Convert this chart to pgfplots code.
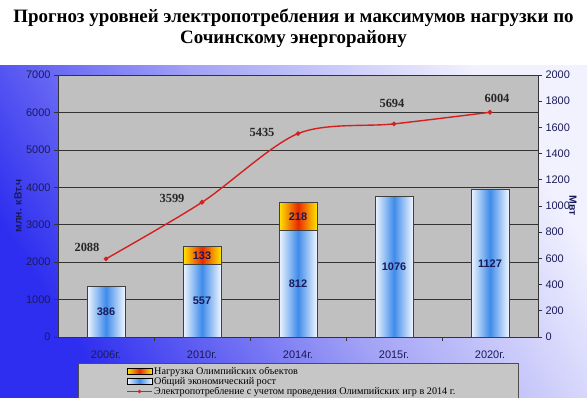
\documentclass[border=0pt]{standalone}
\usepackage{pgfplots}
\pgfplotsset{compat=1.18}
\usepackage{fontspec}
\setmainfont{Liberation Serif}
\newfontfamily\arial{Liberation Sans}
\definecolor{navy}{HTML}{1A1A5A}
\definecolor{graybg}{HTML}{C0C0C0}
\definecolor{bgblue}{HTML}{2E2EF0}
\definecolor{bgmid}{HTML}{A2A2F6}
\definecolor{bglight}{HTML}{F2F2FF}
\definecolor{blueE}{HTML}{F0F6FF}
\definecolor{blueC}{HTML}{3F8CEA}
\definecolor{yel}{HTML}{FFE600}
\definecolor{redc}{HTML}{E82A00}
\definecolor{linered}{HTML}{D42020}
\tikzset{barlab/.style={font=\arial\bfseries\fontsize{11}{12}\selectfont, text=navy},
         linelab/.style={font=\bfseries\fontsize{12.5}{14}\selectfont, text=black!85},
         leglab/.style={anchor=west, inner sep=0pt, font=\fontsize{10.2}{10.5}\selectfont},
         bluebar/.style={draw=black!75, line width=0.7pt, left color=blueE, right color=blueE, middle color=blueC},
         orangebar/.style={draw=black!75, line width=0.7pt, left color=yel, right color=yel, middle color=redc}}
\begin{document}
\begin{tikzpicture}[x=1bp,y=1bp]
\path[use as bounding box] (0,0) rectangle (587,397);
\fill[white] (0,0) rectangle (587,397);
\shade[top color=bglight, bottom color=bgblue, middle color=bgmid, shading angle=-58] (0,0) rectangle (587,332);
\node[font=\bfseries\fontsize{19}{21}\selectfont, align=center] at (293.5,369)
  {Прогноз уровней электропотребления и максимумов нагрузки по\\Сочинскому энергорайону};
% background axis with left scale and grid
\begin{axis}[at={(58bp,60bp)}, anchor=south west, width=480bp, height=262bp, scale only axis,
  xmin=-0.5, xmax=4.5, ymin=0, ymax=7000,
  ytick={0,1000,...,7000}, ymajorgrids,
  grid style={black!80, line width=0.7pt},
  axis background/.style={fill=graybg},
  axis line style={black!80, line width=0.7pt},
  xtick={0,1,2,3,4}, xticklabels={2006г.,2010г.,2014г.,2015г.,2020г.},
  xtick style={draw=none},
  extra x ticks={0.5,1.5,2.5,3.5}, extra x tick labels={},
  extra x tick style={grid=none, xtick style={draw=black!80, line width=0.7pt}},
  ytick style={black!80, line width=0.7pt},
  tick align=outside, major tick length=4bp,
  ytick pos=left, xtick pos=bottom,
  /pgf/number format/assume math mode=true,
  /pgf/number format/1000 sep={},
  ticklabel style={font=\arial\fontsize{11}{12}\selectfont, text=navy},
  xticklabel style={yshift=-6bp},
  ylabel={млн. кВт.ч},
  ylabel style={font=\arial\bfseries\fontsize{10.5}{12}\selectfont, text=navy,
    at={(axis description cs:-0.083,0.5)}, anchor=center},
]
\end{axis}
% bars on right scale
\begin{axis}[at={(58bp,60bp)}, anchor=south west, width=480bp, height=262bp, scale only axis,
  xmin=-0.5, xmax=4.5, ymin=0, ymax=2000,
  axis x line=none, axis y line*=right,
  ytick={0,200,...,2000},
  ytick style={black!80, line width=0.7pt},
  axis line style={black!80, line width=0.7pt},
  tick align=outside, major tick length=4bp,
  /pgf/number format/assume math mode=true,
  /pgf/number format/1000 sep={},
  ticklabel style={font=\arial\fontsize{11}{12}\selectfont, text=navy},
  ylabel={Мвт},
  ylabel style={font=\arial\bfseries\fontsize{10.5}{12}\selectfont, text=navy, rotate=180,
    at={(axis description cs:1.073,0.5)}, anchor=center},
  ybar, bar width=38bp, bar shift=0pt, clip=false,
]
% Olympic load on top of the general growth: drawn to the full stack height, then covered by the blue part
\addplot[orangebar] coordinates {(1,690)};
\addplot[orangebar] coordinates {(2,1030)};
\addplot[bluebar] coordinates {(0,386)};
\addplot[bluebar] coordinates {(1,557)};
\addplot[bluebar] coordinates {(2,812)};
\addplot[bluebar] coordinates {(3,1076)};
\addplot[bluebar] coordinates {(4,1127)};
\end{axis}
% line on left scale
\begin{axis}[at={(58bp,60bp)}, anchor=south west, width=480bp, height=262bp, scale only axis,
  xmin=-0.5, xmax=4.5, ymin=0, ymax=7000, hide axis, clip=false]
\addplot[linered, line width=1.4pt, smooth, mark=*, mark size=1.6pt, mark options={fill=linered}]
  coordinates {(0,2088) (1,3599) (2,5435) (3,5694) (4,6004)};
\node[linelab] at (axis cs:-0.198,2404) {2088};
\node[linelab] at (axis cs:0.6875,3713) {3599};
\node[linelab] at (axis cs:1.625,5476) {5435};
\node[linelab] at (axis cs:2.979,6250) {5694};
\node[linelab] at (axis cs:4.073,6384) {6004};
% bar labels (positions in MW times 3.5)
\node[barlab] at (axis cs:0,675) {386};
\node[barlab] at (axis cs:1,973) {557};
\node[barlab] at (axis cs:1,2181) {133};
\node[barlab] at (axis cs:2,1421) {812};
\node[barlab] at (axis cs:2,3224) {218};
\node[barlab] at (axis cs:3,1883) {1076};
\node[barlab] at (axis cs:4,1971) {1127};
\end{axis}
% legend
\fill[graybg!90!white, draw=black!70, line width=0.7pt] (78,-2) rectangle (518,34);
\shade[left color=yel, right color=yel, middle color=redc] (127,22.5) rectangle (152,28.5);
\draw[black, line width=0.7pt] (127,22.5) rectangle (152,28.5);
\node[leglab] at (154,25.5) {Нагрузка Олимпийских объектов};
\shade[left color=blueE, right color=blueE, middle color=blueC] (127,12.5) rectangle (152,18.5);
\draw[black, line width=0.7pt] (127,12.5) rectangle (152,18.5);
\node[leglab] at (154,15.5) {Общий экономический рост};
\draw[linered, line width=1.4pt] (127,5.5) -- (152,5.5);
\fill[linered] (139.5,5.5) circle (1.8);
\node[leglab] at (154,5.5) {Электропотребление с учетом проведения Олимпийских игр в 2014 г.};
\end{tikzpicture}
\end{document}
